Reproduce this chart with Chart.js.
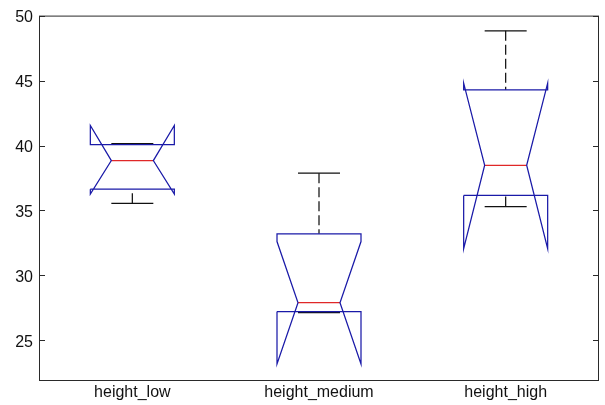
<!DOCTYPE html>
<html>
<head>
<meta charset="utf-8">
<script src="https://cdn.jsdelivr.net/npm/chart.js@4.4.0/dist/chart.umd.min.js"></script>
<style>
  html, body { margin: 0; padding: 0; background: #fff; }
  #wrap { width: 605px; height: 405px; }
</style>
</head>
<body>
<div id="wrap"><canvas id="boxChart"></canvas></div>
<script>
// valeurs
const categories = ['height_low', 'height_medium', 'height_high'];
const q1 = [36.64, 27.22, 36.16];
const q3 = [40.06, 33.2, 44.29];
const median = [38.84, 27.9, 38.48];
const notchLow = [36.26, 23.19, 32.06];
const notchHigh = [41.54, 32.61, 44.8];
const whiskerLow = [35.55, 27.14, 35.3];
const whiskerHigh = [40.14, 37.87, 48.83];
const yTicks = [25, 30, 35, 40, 45, 50];

const halfW = 0.225;   // demi-largeur de la boite
const notchW = 0.1125; // demi-largeur au niveau de la mediane

const blue = '#1a1aa8';
const red = '#e02828';
const black = '#111';

function gap(x) { return { x: x, y: null }; }

const datasets = [];
const whiskers = [];
const caps = [];

categories.forEach((c, i) => {
    const x = i + 1;
    // contour encoche (meme ordre que boxplot de matlab)
    datasets.push({
        data: [
            { x: x - halfW, y: q1[i] },
            { x: x - halfW, y: notchLow[i] },
            { x: x - notchW, y: median[i] },
            { x: x - halfW, y: notchHigh[i] },
            { x: x - halfW, y: q3[i] },
            { x: x + halfW, y: q3[i] },
            { x: x + halfW, y: notchHigh[i] },
            { x: x + notchW, y: median[i] },
            { x: x + halfW, y: notchLow[i] },
            { x: x + halfW, y: q1[i] },
            { x: x - halfW, y: q1[i] }
        ],
        borderColor: blue
    });
    datasets.push({
        data: [{ x: x - notchW, y: median[i] }, { x: x + notchW, y: median[i] }],
        borderColor: red
    });
    whiskers.push({ x: x, y: whiskerHigh[i] }, { x: x, y: q3[i] }, gap(x));
    whiskers.push({ x: x, y: whiskerLow[i] }, { x: x, y: q1[i] }, gap(x));
    caps.push({ x: x - notchW, y: whiskerHigh[i] }, { x: x + notchW, y: whiskerHigh[i] }, gap(x));
    caps.push({ x: x - notchW, y: whiskerLow[i] }, { x: x + notchW, y: whiskerLow[i] }, gap(x));
});

datasets.push({ data: whiskers, borderColor: black, borderDash: [10, 4] });
datasets.push({ data: caps, borderColor: black });

datasets.forEach(d => {
    d.borderWidth = 1.25;
    d.pointRadius = 0;
    d.fill = false;
    d.tension = 0;
    d.spanGaps = false;
});

// cadre + graduations vers l'interieur
const framePlugin = {
    id: 'frame',
    afterDraw(chart) {
        const { ctx, chartArea: a, scales } = chart;
        ctx.save();
        ctx.strokeStyle = '#2a2a2a';
        ctx.lineWidth = 1;
        ctx.strokeRect(a.left + 0.5, a.top + 0.5, a.right - a.left - 1, a.bottom - a.top - 1);
        ctx.beginPath();
        yTicks.forEach(v => {
            const y = Math.round(scales.y.getPixelForValue(v)) + 0.5;
            ctx.moveTo(a.left, y);
            ctx.lineTo(a.left + 6, y);
            ctx.moveTo(a.right, y);
            ctx.lineTo(a.right - 6, y);
        });
        ctx.stroke();
        ctx.restore();
    }
};

const ctx = document.getElementById('boxChart').getContext('2d');
new Chart(ctx, {
    type: 'line',
    data: { datasets: datasets },
    options: {
        responsive: true,
        maintainAspectRatio: false,
        animation: false,
        layout: { padding: { left: 0, right: 6, top: 12, bottom: 0 } },
        plugins: {
            legend: { display: false },
            tooltip: { enabled: false }
        },
        scales: {
            x: {
                type: 'linear',
                min: 0.5,
                max: 3.5,
                grid: { display: false, drawTicks: false },
                border: { display: false },
                afterBuildTicks: s => { s.ticks = categories.map((c, i) => ({ value: i + 1 })); },
                afterFit: s => { s.height = 24; },
                ticks: {
                    padding: 2,
                    color: '#111',
                    font: { family: 'Liberation Sans', size: 16 },
                    callback: v => categories[v - 1]
                }
            },
            y: {
                min: 21.875,
                max: 50,
                grid: { display: false, drawTicks: false },
                border: { display: false },
                afterBuildTicks: s => { s.ticks = yTicks.map(v => ({ value: v })); },
                afterFit: s => { s.width = 39; },
                ticks: {
                    padding: 6,
                    labelOffset: 2,
                    color: '#111',
                    font: { family: 'Liberation Sans', size: 16 }
                }
            }
        }
    },
    plugins: [framePlugin]
});
</script>
</body>
</html>
